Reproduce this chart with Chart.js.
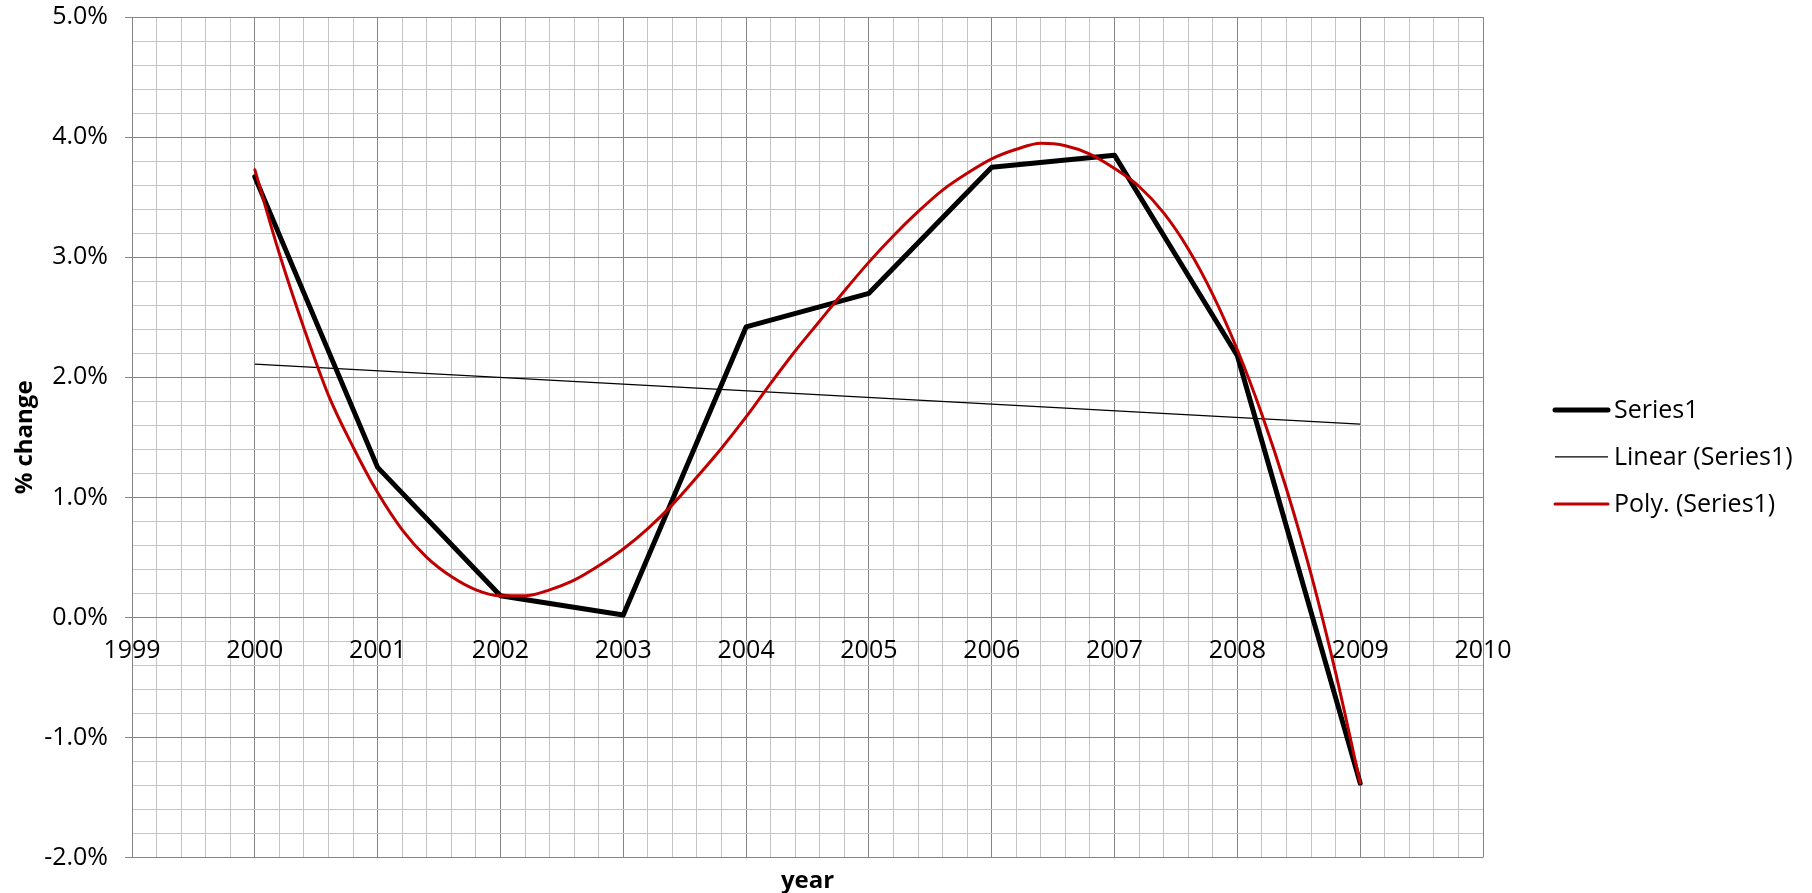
<!DOCTYPE html>
<html>
<head>
<meta charset="utf-8">
<title>% change by year</title>
<script src="https://cdn.jsdelivr.net/npm/chart.js@4.4.1/dist/chart.umd.min.js"></script>
<style>
  html, body { margin: 0; padding: 0; background: #ffffff; }
  canvas { display: block; }
</style>
</head>
<body>
<canvas id="chart" width="1812" height="893"></canvas>
<script>
// Annual % change
const years = [2000, 2001, 2002, 2003, 2004, 2005, 2006, 2007, 2008, 2009];
const pctChange = [3.67, 1.25, 0.18, 0.02, 2.42, 2.70, 3.75, 3.85, 2.18, -1.38];

// Linear trendline end points
const linearYears = [2000, 2009];
const linearTrend = [2.11, 1.61];

// Polynomial trendline, sampled every 0.2 year
const polyYears = [
  2000.0, 2000.2, 2000.4, 2000.6, 2000.8, 2001.0, 2001.2, 2001.4, 2001.6, 2001.8,
  2002.0, 2002.2, 2002.4, 2002.6, 2002.8, 2003.0, 2003.2, 2003.4, 2003.6, 2003.8,
  2004.0, 2004.2, 2004.4, 2004.6, 2004.8, 2005.0, 2005.2, 2005.4, 2005.6, 2005.8,
  2006.0, 2006.2, 2006.4, 2006.6, 2006.8, 2007.0, 2007.2, 2007.4, 2007.6, 2007.8,
  2008.0, 2008.2, 2008.4, 2008.6, 2008.8, 2009.0
];
const polyTrend = [
  3.73, 3.03, 2.41, 1.85, 1.42, 1.04, 0.73, 0.50, 0.34, 0.23,
  0.18, 0.18, 0.23, 0.31, 0.43, 0.57, 0.74, 0.94, 1.17, 1.41,
  1.67, 1.95, 2.22, 2.47, 2.72, 2.96, 3.18, 3.38, 3.56, 3.70,
  3.82, 3.90, 3.95, 3.93, 3.86, 3.74, 3.59, 3.37, 3.07, 2.69,
  2.23, 1.69, 1.07, 0.36, -0.46, -1.38
];

// Labelled (major) tick values
const xTickYears = [1999, 2000, 2001, 2002, 2003, 2004, 2005, 2006, 2007, 2008, 2009, 2010];
const yTickPercents = [-2, -1, 0, 1, 2, 3, 4, 5];

const seriesNames = ['Series1', 'Linear (Series1)', 'Poly. (Series1)'];

const FONT = "'Open Sans', 'Liberation Sans', sans-serif";
const MAJOR_GRID = '#858585';
const MINOR_GRID = '#c4c4c4';

const toPoints = (xs, ys) => xs.map((x, i) => ({ x: x, y: ys[i] }));
const isMajor = (v, list) => list.some(t => Math.abs(t - v) < 1e-6);

// Legend drawn to the right of the plot area, line sample + label
const sideLegend = {
  id: 'sideLegend',
  afterDraw(chart) {
    const { ctx, chartArea } = chart;
    const x0 = chartArea.right + 72;
    const lineLen = 53;
    const rowGap = 47;
    const y0 = (chartArea.top + chartArea.bottom) / 2 - 27.5;
    ctx.save();
    ctx.font = '25px ' + FONT;
    ctx.textBaseline = 'middle';
    ctx.textAlign = 'left';
    chart.data.datasets.forEach((ds, i) => {
      const y = y0 + i * rowGap;
      ctx.beginPath();
      ctx.strokeStyle = ds.borderColor;
      ctx.lineWidth = ds.borderWidth;
      ctx.lineCap = ds.borderCapStyle || 'butt';
      ctx.moveTo(x0, y);
      ctx.lineTo(x0 + lineLen, y);
      ctx.stroke();
      ctx.fillStyle = '#000000';
      ctx.fillText(ds.label, x0 + lineLen + 6, y + 1);
    });
    ctx.restore();
  }
};

new Chart(document.getElementById('chart'), {
  type: 'line',
  data: {
    datasets: [
      {
        label: seriesNames[0],
        data: toPoints(years, pctChange),
        borderColor: '#000000',
        backgroundColor: '#000000',
        borderWidth: 5,
        borderCapStyle: 'round',
        borderJoinStyle: 'round',
        pointRadius: 0,
        tension: 0,
        order: 3
      },
      {
        label: seriesNames[1],
        data: toPoints(linearYears, linearTrend),
        borderColor: '#000000',
        backgroundColor: '#000000',
        borderWidth: 1.25,
        pointRadius: 0,
        tension: 0,
        order: 2
      },
      {
        label: seriesNames[2],
        data: toPoints(polyYears, polyTrend),
        borderColor: '#c00000',
        backgroundColor: '#c00000',
        borderWidth: 3,
        borderCapStyle: 'round',
        pointRadius: 0,
        cubicInterpolationMode: 'monotone',
        order: 1
      }
    ]
  },
  options: {
    responsive: false,
    animation: false,
    events: [],
    layout: { padding: { top: 17, left: 0, right: 329, bottom: 0 } },
    plugins: {
      legend: { display: false },
      tooltip: { enabled: false },
      title: {
        display: true,
        text: 'year',
        position: 'bottom',
        fullSize: false,
        color: '#000000',
        font: { family: FONT, size: 24, weight: 'bold', lineHeight: 1 },
        padding: { top: 11.5, bottom: 0 }
      }
    },
    scales: {
      x: {
        type: 'linear',
        position: { y: 0 },
        min: 1999,
        max: 2010,
        ticks: {
          stepSize: 0.2,
          maxTicksLimit: 200,
          autoSkip: false,
          maxRotation: 0,
          minRotation: 0,
          padding: 18,
          color: '#000000',
          font: { family: FONT, size: 25 },
          callback: v => isMajor(v, xTickYears) ? String(Math.round(v)) : ''
        },
        grid: {
          color: c => isMajor(c.tick.value, xTickYears) ? MAJOR_GRID : MINOR_GRID,
          lineWidth: 1,
          drawTicks: false
        },
        border: { display: true, color: MAJOR_GRID, width: 1 }
      },
      y: {
        type: 'linear',
        position: 'left',
        min: -2,
        max: 5,
        afterFit: s => { s.width = 132; },
        ticks: {
          stepSize: 0.2,
          maxTicksLimit: 200,
          autoSkip: false,
          padding: 17,
          color: '#000000',
          font: { family: FONT, size: 25, lineHeight: 0.02 },
          callback: v => isMajor(v, yTickPercents) ? Math.round(v).toFixed(1) + '%' : ''
        },
        grid: {
          color: c => isMajor(c.tick.value, yTickPercents) ? MAJOR_GRID : MINOR_GRID,
          tickColor: c => isMajor(c.tick.value, yTickPercents) ? MAJOR_GRID : 'rgba(0,0,0,0)',
          lineWidth: 1,
          tickLength: 7
        },
        border: { display: true, color: MAJOR_GRID, width: 1 },
        title: {
          display: true,
          text: '% change',
          color: '#000000',
          font: { family: FONT, size: 24, weight: 'bold' },
          padding: { top: 11, bottom: 0 }
        }
      }
    }
  },
  plugins: [sideLegend]
});
</script>
</body>
</html>
